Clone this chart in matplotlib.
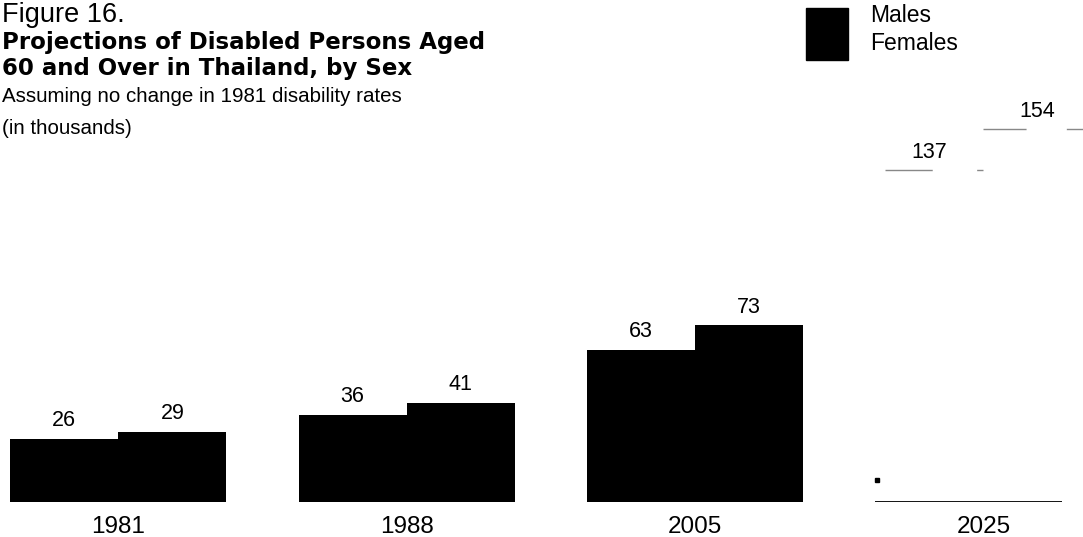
import matplotlib
matplotlib.use("Agg")
import matplotlib.pyplot as plt
import numpy as np

# data (thousands)
years = ["1981", "1988", "2005", "2025"]
males = [26, 36, 63, 137]
females = [29, 41, 73, 154]
value_labels_m = ["26", "36", "63", "137"]
value_labels_f = ["29", "41", "73", "154"]

W, H = 1083, 537
fig = plt.figure(figsize=(W / 100, H / 100), dpi=100)
plt.rcParams['font.family'] = ['Liberation Sans', 'DejaVu Sans']

# axes: baseline at y=502 px, full width
ax = fig.add_axes([0, (H - 502) / H, 1, 502 / H])
ax.set_xlim(-0.41, 3.345)
ax.set_ylim(0, 207.4)
ax.axis("off")

x = np.arange(len(years))
bw = 0.375
# first three groups print black, 2025 dropped out in the scan (white)
faces = ["black", "black", "black", "white"]
for i in range(len(years)):
    ax.bar(x[i] - bw / 2, males[i], bw, color=faces[i], linewidth=0)
    ax.bar(x[i] + bw / 2, females[i], bw, color=faces[i], linewidth=0)
    ax.text(x[i] - bw / 2, males[i] + 5.2, value_labels_m[i],
            ha="center", va="baseline", fontsize=15.5)
    ax.text(x[i] + bw / 2, females[i] + 5.2, value_labels_f[i],
            ha="center", va="baseline", fontsize=15.5)
    ax.text(x[i], -12.8, years[i], ha="center", va="baseline", fontsize=17.5,
            clip_on=False)

# faint broken top edges of the 2025 bars
ax.hlines(males[3], x[3] - bw + 0.035, x[3], color="#888888",
          lw=1, linestyles=(0, (34, 32)))
ax.hlines(females[3], x[3], x[3] + bw, color="#888888",
          lw=1, linestyles=(0, (31, 29)))
# baseline under 2025
ax.hlines(0, x[3] - bw, 3.272, color="black", lw=1.3)
# small speck near the 2025 baseline
ax.plot([x[3] - bw + 0.005], [9], marker="s", ms=3, color="black")

# titles
fig.text(2 / W, 1 - 15 / H, "Figure 16.", fontsize=19.5, va="center", ha="left")
fig.text(2 / W, 1 - 43 / H, "Projections of Disabled Persons Aged",
         fontsize=16.5, fontweight="bold", family="DejaVu Sans",
         va="center", ha="left")
fig.text(2 / W, 1 - 69 / H, "60 and Over in Thailand, by Sex",
         fontsize=16.5, fontweight="bold", family="DejaVu Sans",
         va="center", ha="left")
fig.text(2 / W, 1 - 97 / H, "Assuming no change in 1981 disability rates",
         fontsize=14.8, va="center", ha="left")
fig.text(2 / W, 1 - 128 / H, "(in thousands)", fontsize=14.8,
         va="center", ha="left")

# legend: merged black swatch
fig.patches.append(plt.Rectangle((806 / W, 1 - 60 / H), 42 / W, 52 / H,
                                 transform=fig.transFigure,
                                 color="black", figure=fig))
fig.text(870 / W, 1 - 16 / H, "Males", fontsize=16.5, va="center", ha="left")
fig.text(870 / W, 1 - 43 / H, "Females", fontsize=16.5, va="center", ha="left")

fig.savefig("out.png", dpi=100)
